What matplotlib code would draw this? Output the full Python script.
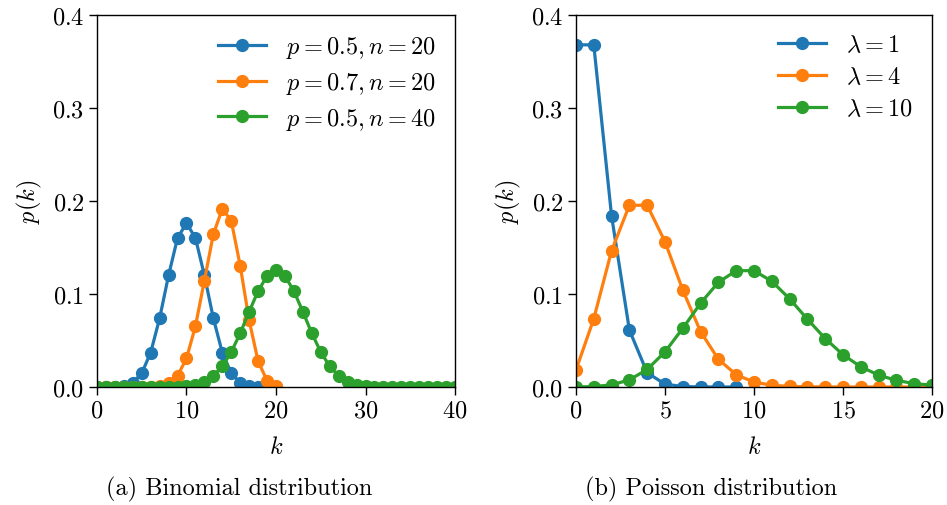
import matplotlib
matplotlib.use("Agg")
import matplotlib.pyplot as plt

plt.rcParams.update({
    "font.family": "serif",
    "font.serif": ["cmr10"],
    "mathtext.fontset": "cm",
    "axes.formatter.use_mathtext": True,
    "font.size": 17.5,
    "axes.linewidth": 1.0,
    "xtick.major.width": 1.0,
    "ytick.major.width": 1.0,
    "xtick.major.size": 5.5,
    "ytick.major.size": 5.5,
})

# binomial pmf values
binom_k_20 = list(range(0, 21))
binom_p05_n20 = [0.0000, 0.0000, 0.0002, 0.0011, 0.0046, 0.0148, 0.0370, 0.0739,
                 0.1201, 0.1602, 0.1762, 0.1602, 0.1201, 0.0739, 0.0370, 0.0148,
                 0.0046, 0.0011, 0.0002, 0.0000, 0.0000]
binom_p07_n20 = [0.0000, 0.0000, 0.0000, 0.0000, 0.0000, 0.0000, 0.0002, 0.0010,
                 0.0039, 0.0120, 0.0308, 0.0654, 0.1144, 0.1643, 0.1916, 0.1789,
                 0.1304, 0.0716, 0.0278, 0.0068, 0.0008]
binom_k_40 = list(range(0, 41))
binom_p05_n40 = [0.0000, 0.0000, 0.0000, 0.0000, 0.0000, 0.0000, 0.0000, 0.0000,
                 0.0001, 0.0004, 0.0011, 0.0026, 0.0059, 0.0120, 0.0222, 0.0376,
                 0.0578, 0.0810, 0.1031, 0.1194, 0.1254, 0.1194, 0.1031, 0.0810,
                 0.0578, 0.0376, 0.0222, 0.0120, 0.0059, 0.0026, 0.0011, 0.0004,
                 0.0001, 0.0000, 0.0000, 0.0000, 0.0000, 0.0000, 0.0000, 0.0000,
                 0.0000]
binom_labels = [r"$p=0.5, n=20$", r"$p=0.7, n=20$", r"$p=0.5, n=40$"]

# poisson pmf values
pois_k1 = list(range(0, 10))
pois_lam1 = [0.3679, 0.3679, 0.1839, 0.0613, 0.0153, 0.0031, 0.0005, 0.0001,
             0.0000, 0.0000]
pois_k4 = list(range(0, 21))
pois_lam4 = [0.0183, 0.0733, 0.1465, 0.1954, 0.1954, 0.1563, 0.1042, 0.0595,
             0.0298, 0.0132, 0.0053, 0.0019, 0.0006, 0.0002, 0.0001, 0.0000,
             0.0000, 0.0000, 0.0000, 0.0000, 0.0000]
pois_k10 = list(range(0, 21))
pois_lam10 = [0.0000, 0.0005, 0.0023, 0.0076, 0.0189, 0.0378, 0.0631, 0.0901,
              0.1126, 0.1251, 0.1251, 0.1137, 0.0948, 0.0729, 0.0521, 0.0347,
              0.0217, 0.0128, 0.0071, 0.0037, 0.0019]
pois_labels = [r"$\lambda=1$", r"$\lambda=4$", r"$\lambda=10$"]

fig = plt.figure(figsize=(9.47, 5.06), dpi=100)
ax1 = fig.add_axes([0.1024, 0.2332, 0.3781, 0.7352])
ax2 = fig.add_axes([0.6082, 0.2332, 0.3760, 0.7352])

style = dict(marker="o", markersize=8.5, linewidth=2.3)

ax1.plot(binom_k_20, binom_p05_n20, label=binom_labels[0], **style)
ax1.plot(binom_k_20, binom_p07_n20, label=binom_labels[1], **style)
ax1.plot(binom_k_40, binom_p05_n40, label=binom_labels[2], **style)
ax1.set_xlim(0, 40)

ax2.plot(pois_k1, pois_lam1, label=pois_labels[0], **style)
ax2.plot(pois_k4, pois_lam4, label=pois_labels[1], **style)
ax2.plot(pois_k10, pois_lam10, label=pois_labels[2], **style)
ax2.set_xlim(0, 20)

for ax in (ax1, ax2):
    ax.set_ylim(0, 0.4)
    ax.set_yticks([0.0, 0.1, 0.2, 0.3, 0.4])
    ax.set_xlabel(r"$k$", labelpad=10)
    ax.set_ylabel(r"$p(k)$", labelpad=6)
    ax.legend(loc="upper right", frameon=False, handlelength=2.0,
              borderaxespad=0.4, labelspacing=0.4)

fig.text(0.253, 0.032, "(a) Binomial distribution", ha="center", va="center")
fig.text(0.751, 0.032, "(b) Poisson distribution", ha="center", va="center")

fig.savefig("out.png", dpi=100)
